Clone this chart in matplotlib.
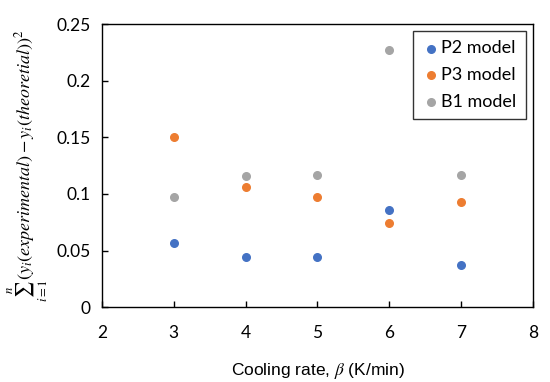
import matplotlib.pyplot as plt

# dados
taxa = [3, 4, 5, 6, 7]
p2 = [0.057, 0.044, 0.044, 0.086, 0.037]
p3 = [0.150, 0.106, 0.097, 0.074, 0.093]
b1 = [0.097, 0.116, 0.117, 0.227, 0.117]

plt.rcParams['mathtext.fontset'] = 'stix'

fig = plt.figure(figsize=(5.5, 3.82), dpi=100)
ax = fig.add_axes([0.1855, 0.196, 0.7835, 0.741])

ax.scatter(taxa, p2, s=30, color='#4472C4', label='P2 model', zorder=3)
ax.scatter(taxa, p3, s=30, color='#ED7D31', label='P3 model', zorder=3)
ax.scatter(taxa, b1, s=30, color='#A5A5A5', label='B1 model', zorder=3)

ax.set_xlim(2, 8)
ax.set_ylim(0, 0.25)
ax.set_xticks([2, 3, 4, 5, 6, 7, 8])
ax.set_yticks([0, 0.05, 0.1, 0.15, 0.2, 0.25])
ax.set_yticklabels(['0', '0.05', '0.1', '0.15', '0.2', '0.25'])
ax.tick_params(direction='in', length=4, width=1, labelsize=12.5, pad=8)
ax.tick_params(axis='x', pad=13)
for lbl in ax.get_xticklabels() + ax.get_yticklabels():
    lbl.set_family('Lato')
for s in ax.spines.values():
    s.set_linewidth(1)

ax.set_xlabel(r'Cooling rate, $\beta$ (K/min)', fontsize=12.5, family='Liberation Sans', labelpad=14)
ax.set_ylabel(r'$\sum_{i=1}^{n}\left(y_i(experimental) - y_i(theoretial)\right)^2$', fontsize=13)
ax.yaxis.set_label_coords(-0.12, 0.5)

leg = ax.legend(loc='upper right', frameon=True, fancybox=False, edgecolor='black',
                handletextpad=0.1, borderpad=0.5, labelspacing=0.6,
                handlelength=1.0, prop={'family': 'Lato', 'size': 13}, borderaxespad=0.4)
leg.get_frame().set_linewidth(1)

fig.savefig('out.png', dpi=100)
